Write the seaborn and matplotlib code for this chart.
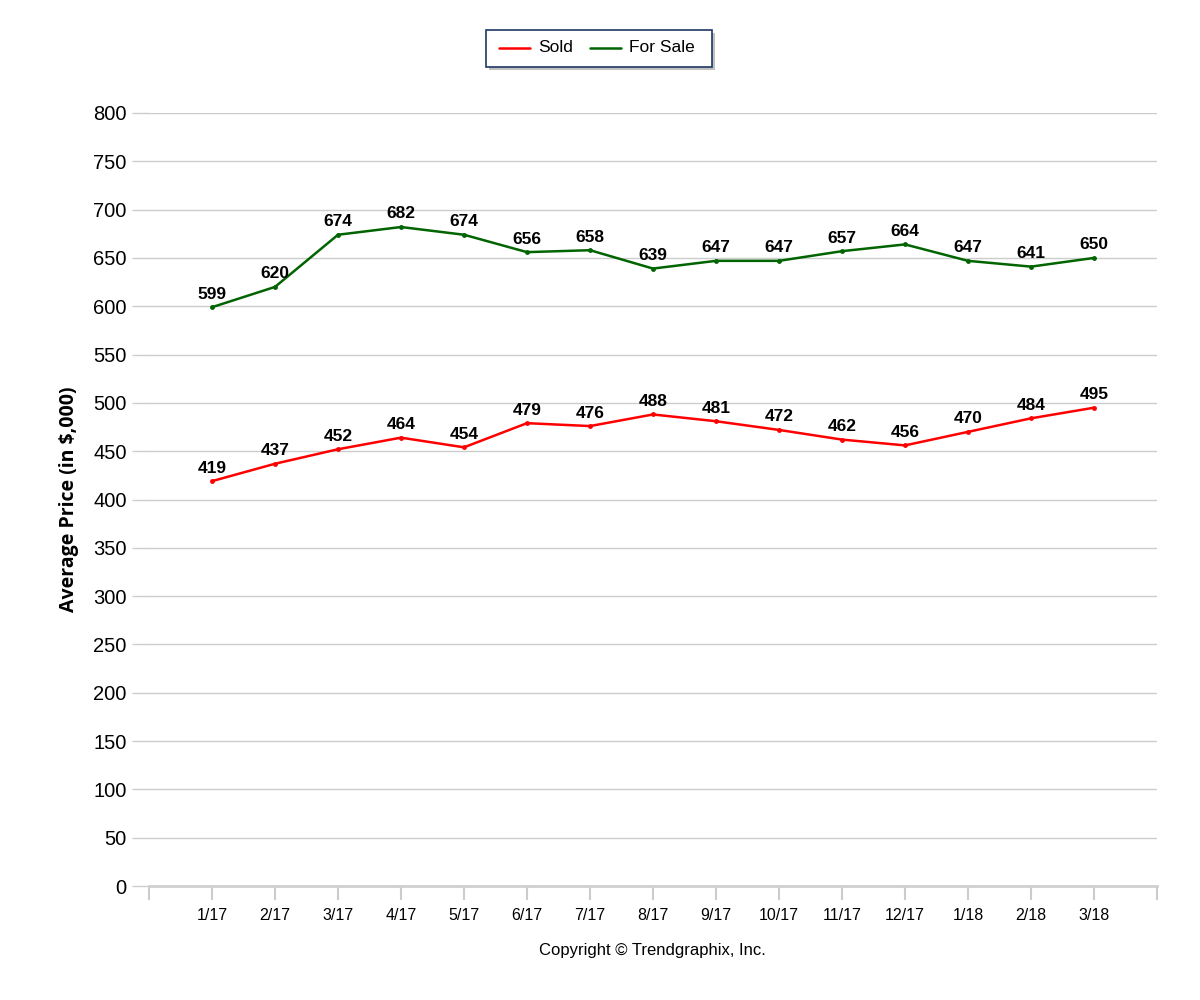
import numpy as np
import pandas as pd
import matplotlib
matplotlib.use("Agg")
import matplotlib.pyplot as plt
import seaborn as sns
from matplotlib.patches import FancyBboxPatch

months = ['1/17', '2/17', '3/17', '4/17', '5/17', '6/17', '7/17', '8/17',
          '9/17', '10/17', '11/17', '12/17', '1/18', '2/18', '3/18']
sold = [419, 437, 452, 464, 454, 479, 476, 488, 481, 472, 462, 456, 470, 484, 495]
for_sale = [599, 620, 674, 682, 674, 656, 658, 639, 647, 647, 657, 664, 647, 641, 650]

sns.set_style("white", {'text.color': 'black', 'xtick.color': '#cccccc', 'ytick.color': '#cccccc',
                        'xtick.bottom': True, 'ytick.left': True})
plt.rcParams['font.family'] = ['Liberation Sans', 'DejaVu Sans']

df = pd.DataFrame({'x': np.arange(len(months)), 'Sold': sold, 'For Sale': for_sale})
df_long = df.melt(id_vars='x', var_name='Legend', value_name='value')

fig = plt.figure(figsize=(12, 10), dpi=100)
ax = fig.add_axes([149 / 1200, 0.114, (1157 - 149) / 1200, 0.773])

sns.lineplot(data=df_long, x='x', y='value', hue='Legend',
             palette={'Sold': '#ff0000', 'For Sale': '#006400'},
             marker='o', markersize=3.5, markeredgewidth=0, linewidth=1.8,
             ax=ax, legend=False)

ax.set_xlim(-1, len(months))
ax.set_ylim(0, 800)
ax.set_yticks(np.arange(0, 801, 50))
ax.tick_params(axis='y', labelsize=14.5, length=12, width=1, color='#cccccc',
               labelcolor='black', pad=4, left=True)
ax.yaxis.grid(True, color='#cccccc', linewidth=1)
ax.set_axisbelow(True)

ax.set_xticks(np.arange(-1, len(months) + 1))
ax.set_xticklabels([''] + months + [''])
ax.tick_params(axis='x', labelsize=11.5, length=10, width=1.5, color='#cccccc',
               labelcolor='black', direction='out', pad=6, bottom=True)

for side in ['top', 'right', 'left']:
    ax.spines[side].set_visible(False)
ax.spines['bottom'].set_color('#d0d0d0')
ax.spines['bottom'].set_linewidth(2)

ax.set_xlabel('')
ax.set_ylabel('Average Price (in $,000)', fontsize=14, fontweight='bold', color='black',
              family=['Open Sans', 'DejaVu Sans'], labelpad=10)

for series in [sold, for_sale]:
    for i, v in enumerate(series):
        ax.annotate(str(v), (i, v), xytext=(0, 4), textcoords='offset points',
                    ha='center', va='bottom', fontsize=12.5, fontweight='bold', color='black')

# legend box with shadow
shadow = FancyBboxPatch((489 / 1200, 1 - 70 / 1000), 226 / 1200, 37 / 1000,
                        boxstyle='square,pad=0', transform=fig.transFigure,
                        facecolor='#999999', edgecolor='none', alpha=0.6)
box = FancyBboxPatch((486 / 1200, 1 - 67 / 1000), 226 / 1200, 37 / 1000,
                     boxstyle='square,pad=0', transform=fig.transFigure,
                     facecolor='white', edgecolor='#1f3864', linewidth=1.2)
fig.patches.extend([shadow, box])
fig.lines.append(plt.Line2D([499 / 1200, 530 / 1200], [1 - 48 / 1000] * 2,
                            transform=fig.transFigure, color='#ff0000', linewidth=1.8))
fig.lines.append(plt.Line2D([590 / 1200, 621 / 1200], [1 - 48 / 1000] * 2,
                            transform=fig.transFigure, color='#006400', linewidth=1.8))
fig.text(538 / 1200, 1 - 48 / 1000, 'Sold', fontsize=12.5, va='center')
fig.text(629 / 1200, 1 - 48 / 1000, 'For Sale', fontsize=12.5, va='center')

fig.text(652 / 1200, 1 - 950 / 1000, 'Copyright \u00a9 Trendgraphix, Inc.',
         fontsize=12, ha='center', va='center')

fig.savefig('out.png', dpi=100)
